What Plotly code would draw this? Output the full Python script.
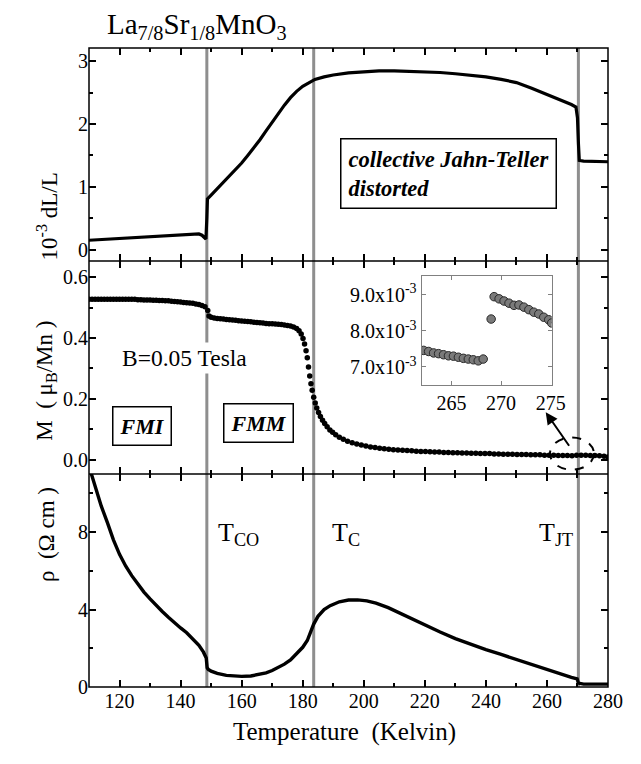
import plotly.graph_objects as go
from plotly.subplots import make_subplots

FONT = "Liberation Serif"

# ---------------- data ----------------
# Top panel: thermal expansion 10^-3 dL/L
dl_T = [110, 115, 120, 125, 130, 135, 140, 143, 145, 146, 147, 147.7, 148.3, 148.6, 148.8,
        150, 152, 154, 156, 158, 160, 162, 164, 166, 168, 170, 172, 174, 176, 178, 180, 182,
        184, 187, 190, 195, 200, 205, 210, 215, 220, 225, 230, 235, 240, 245, 250, 255, 260,
        265, 268, 269.5, 270.0, 270.3, 270.6, 272, 276, 280]
dl_V = [0.15, 0.165, 0.18, 0.195, 0.21, 0.225, 0.24, 0.25, 0.255, 0.25, 0.23, 0.19, 0.17, 0.5, 0.81,
        0.87, 0.97, 1.07, 1.18, 1.28, 1.38, 1.50, 1.62, 1.75, 1.89, 2.03, 2.17, 2.30, 2.42, 2.52, 2.60, 2.66,
        2.71, 2.75, 2.78, 2.815, 2.835, 2.845, 2.845, 2.84, 2.835, 2.82, 2.80, 2.78, 2.75, 2.71, 2.66, 2.57, 2.47,
        2.38, 2.31, 2.27, 2.1, 1.7, 1.42, 1.41, 1.41, 1.40]

# Middle panel: magnetization (mu_B/Mn), B = 0.05 T
m_T = [110, 111, 112, 113, 114, 115, 116, 117, 118, 119, 120, 121, 122, 123, 124, 125,
       126, 127, 128, 129, 130, 131, 132, 133, 134, 135, 136, 137, 138, 139, 140,
       141, 142, 143, 144, 145, 146, 147, 148, 148.9,
       149.3, 150, 151, 152, 153, 154, 155, 156, 157, 158, 159, 160, 161, 162, 163, 164, 165,
       166, 167, 168, 169, 170, 171, 172, 173, 174, 175, 176, 177, 178, 178.8, 179.5, 180.1,
       180.6, 181.1, 181.5, 181.9, 182.3, 182.7, 183.1, 183.6, 184.1, 184.6, 185.2, 185.8,
       186.5, 187.2, 188, 188.9, 189.8, 190.8, 192, 193.3, 194.7, 196.2, 197.7, 199.2, 200.7,
       202.2, 203.7, 205.2, 206.7, 208.2, 209.7, 211.2, 212.7, 214.2, 215.7, 217.2, 218.7,
       220.2, 221.7, 223.2, 224.7, 226.2, 227.7, 229.2, 230.7, 232.2, 233.7, 235.2, 236.7,
       238.2, 239.7, 241.2, 242.7, 244.2, 245.7, 247.2, 248.7, 250.2, 251.7, 253.2, 254.7,
       256.2, 257.7, 259.2, 260.7, 262.2, 263.7, 265.2, 266.7, 268.2, 269.7, 271.2, 272.7,
       274.2, 275.7, 277.2, 278.7, 280]
m_V = [0.527, 0.527, 0.527, 0.527, 0.527, 0.527, 0.527, 0.527, 0.527, 0.527, 0.527, 0.527, 0.527, 0.527, 0.527, 0.527,
       0.526, 0.526, 0.525, 0.525, 0.525, 0.524, 0.524, 0.523, 0.523, 0.522, 0.522, 0.521, 0.520, 0.519, 0.518,
       0.517, 0.516, 0.515, 0.514, 0.512, 0.510, 0.507, 0.503, 0.490,
       0.472, 0.468, 0.466, 0.464, 0.463, 0.462, 0.461, 0.460, 0.459, 0.458, 0.457, 0.456, 0.455, 0.454, 0.453, 0.452, 0.451,
       0.450, 0.449, 0.448, 0.447, 0.447, 0.446, 0.445, 0.444, 0.443, 0.441, 0.439, 0.436, 0.431, 0.424, 0.413, 0.398,
       0.380, 0.358, 0.335, 0.305, 0.275, 0.250, 0.228, 0.205, 0.186, 0.170, 0.155, 0.142,
       0.130, 0.119, 0.108, 0.098, 0.090, 0.082, 0.074, 0.067, 0.061, 0.056, 0.052, 0.048, 0.045,
       0.042, 0.040, 0.038, 0.036, 0.034, 0.033, 0.032, 0.031, 0.030, 0.029, 0.028, 0.027,
       0.027, 0.026, 0.025, 0.025, 0.024, 0.024, 0.023, 0.023, 0.022, 0.022, 0.021, 0.021,
       0.020, 0.020, 0.020, 0.019, 0.019, 0.018, 0.018, 0.018, 0.017, 0.017, 0.017, 0.016,
       0.016, 0.016, 0.015, 0.015, 0.015, 0.014, 0.014, 0.014, 0.013, 0.015, 0.015, 0.015,
       0.014, 0.014, 0.013, 0.011, 0.009]

# Bottom panel: resistivity (Ohm cm)
rho_T = [110, 112, 114, 116, 118, 120, 122, 124, 126, 128, 130, 132, 134, 136, 138, 140, 142, 144,
         146, 147.5, 148.4, 148.7, 149, 150, 152, 155, 158, 160, 163, 166, 168, 170, 172, 174, 176,
         178, 180, 181.5, 182.5, 183.6, 185, 187, 189, 192, 195, 198, 201, 204, 208, 212, 216, 220,
         225, 230, 235, 240, 245, 250, 255, 260, 265, 268, 269.9, 270.3, 272, 276, 280]
rho_V = [11.4, 10.3, 9.35, 8.5, 7.6, 6.85, 6.25, 5.75, 5.3, 4.9, 4.55, 4.2, 3.9, 3.6, 3.3, 3.05, 2.8, 2.5,
         2.15, 1.8, 1.5, 1.0, 0.92, 0.82, 0.7, 0.6, 0.56, 0.55, 0.57, 0.65, 0.73, 0.85, 1.0, 1.18, 1.4,
         1.7, 2.05, 2.4, 2.8, 3.25, 3.65, 4.0, 4.2, 4.4, 4.49, 4.5, 4.45, 4.33, 4.1, 3.8, 3.5, 3.2,
         2.84, 2.5, 2.2, 1.93, 1.68, 1.42, 1.14, 0.88, 0.62, 0.5, 0.42, 0.2, 0.15, 0.15, 0.15]

# Inset: magnetization near T_JT
in_T = [262.2, 262.7, 263.2, 263.7, 264.2, 264.7, 265.2, 265.7, 266.2, 266.7, 267.2, 267.7, 268.2,
        269.0,
        269.3, 269.8, 270.3, 270.8, 271.3, 271.8, 272.3, 272.8, 273.3, 273.8, 274.3, 274.8, 275.1]
in_V = [7.46e-3, 7.43e-3, 7.39e-3, 7.37e-3, 7.34e-3, 7.31e-3, 7.30e-3, 7.27e-3, 7.24e-3, 7.22e-3, 7.20e-3, 7.17e-3, 7.22e-3,
        8.33e-3,
        8.95e-3, 8.89e-3, 8.83e-3, 8.77e-3, 8.71e-3, 8.72e-3, 8.66e-3, 8.59e-3, 8.52e-3, 8.47e-3, 8.38e-3, 8.31e-3, 8.22e-3]

# Transition temperatures (gray lines)
T_lines = [148.6, 183.6, 270.3]

x_ticks = [120, 140, 160, 180, 200, 220, 240, 260, 280]
inset_yvals = [7.0e-3, 8.0e-3, 9.0e-3]
inset_ytext = ["7.0x10<sup>-3</sup>", "8.0x10<sup>-3</sup>", "9.0x10<sup>-3</sup>"]

# ---------------- figure ----------------
fig = make_subplots(rows=3, cols=1, shared_xaxes=True, vertical_spacing=0)

fig.add_trace(go.Scatter(x=dl_T, y=dl_V, mode="lines",
                         line=dict(color="black", width=3.2), showlegend=False), row=1, col=1)
fig.add_trace(go.Scatter(x=m_T, y=m_V, mode="markers",
                         marker=dict(color="black", size=5.5), showlegend=False), row=2, col=1)
fig.add_trace(go.Scatter(x=rho_T, y=rho_V, mode="lines",
                         line=dict(color="black", width=3.4), showlegend=False), row=3, col=1)
fig.add_trace(go.Scatter(x=in_T, y=in_V, mode="markers", xaxis="x4", yaxis="y4",
                         marker=dict(color="#7a7a7a", size=8.5, line=dict(color="#2a2a2a", width=1)),
                         showlegend=False, cliponaxis=True))

tickfont = dict(family=FONT, size=20, color="black")
common = dict(showline=False, mirror="allticks",
              ticks="inside", ticklen=7, tickwidth=1.5, tickcolor="black",
              showgrid=False, zeroline=False, tickfont=tickfont)

for i in (1, 2, 3):
    fig.update_xaxes(range=[110, 280], tickvals=x_ticks,
                     minor=dict(ticks="inside", ticklen=4, tickwidth=1.5, tickcolor="black", dtick=10, tick0=110),
                     row=i, col=1, **common)

fig.update_yaxes(range=[-0.18, 3.21], dtick=1, tick0=0,
                 minor=dict(ticks="inside", ticklen=4, tickwidth=1.5, tickcolor="black", dtick=0.5, tick0=0),
                 row=1, col=1, **common)
fig.update_yaxes(range=[-0.047, 0.653], dtick=0.2, tick0=0, tickformat=".1f",
                 minor=dict(ticks="inside", ticklen=4, tickwidth=1.5, tickcolor="black", dtick=0.1, tick0=0),
                 row=2, col=1, **common)
fig.update_yaxes(range=[0, 11], dtick=4, tick0=0,
                 minor=dict(ticks="inside", ticklen=4, tickwidth=1.5, tickcolor="black", dtick=2, tick0=0),
                 row=3, col=1, **common)

fig.update_layout(
    xaxis4=dict(domain=[0.641, 0.8915], anchor="y4", range=[262, 275.1],
                tickvals=[265, 270, 275], showline=True, linecolor="#808080", linewidth=1.2,
                mirror="allticks", ticks="inside", ticklen=4, tickcolor="#808080",
                showgrid=False, zeroline=False, tickfont=dict(family=FONT, size=20, color="black")),
    yaxis4=dict(domain=[0.4726, 0.643], anchor="x4", range=[6.5e-3, 9.52e-3],
                tickvals=inset_yvals, ticktext=inset_ytext, showline=True, linecolor="#808080",
                linewidth=1.2, mirror="allticks", ticks="inside", ticklen=4, tickcolor="#808080",
                showgrid=False, zeroline=False, tickfont=dict(family=FONT, size=20, color="black")),
)

shapes = []
for t in T_lines:
    shapes.append(dict(type="line", xref="x", yref="paper", x0=t, x1=t, y0=0, y1=1,
                       line=dict(color="#8e8e8e", width=3), layer="below"))
# frame and panel separators
shapes.append(dict(type="rect", xref="paper", yref="paper", x0=0, x1=1, y0=0, y1=1,
                   line=dict(color="black", width=1.5)))
for yy in (1 / 3, 2 / 3):
    shapes.append(dict(type="line", xref="paper", yref="paper", x0=0, x1=1, y0=yy, y1=yy,
                       line=dict(color="black", width=1.5)))
# dashed ellipse around the T_JT region in M(T)
shapes.append(dict(type="circle", xref="x2", yref="y2", x0=261.0, x1=275.4, y0=-0.033, y1=0.073,
                   line=dict(color="black", width=2, dash="dash")))

ann = []
ann.append(dict(xref="paper", yref="paper", x=0.03, y=1.035, xanchor="left", yanchor="middle",
                text="La<sub>7/8</sub>Sr<sub>1/8</sub>MnO<sub>3</sub>", showarrow=False,
                font=dict(family=FONT, size=29, color="black")))
ann.append(dict(xref="paper", yref="paper", x=-0.112, y=0.809, textangle=-90,
                text="10<sup>-3</sup> dL/L", showarrow=False,
                font=dict(family=FONT, size=23, color="black")))
ann.append(dict(xref="paper", yref="paper", x=-0.114, y=0.479, textangle=-90,
                text="M  ( μ<sub>B</sub>/Mn )", showarrow=False,
                font=dict(family=FONT, size=23, color="black")))
ann.append(dict(xref="paper", yref="paper", x=-0.110, y=0.161, textangle=-90,
                text="ρ  (Ω cm )", showarrow=False,
                font=dict(family=FONT, size=23, color="black")))
ann.append(dict(xref="paper", yref="paper", x=0.493, y=-0.0704, yanchor="middle",
                text="Temperature  (Kelvin)", showarrow=False,
                font=dict(family=FONT, size=25, color="black")))
ann.append(dict(xref="x", yref="y", x=227.7, y=1.22,
                text="<b><i>collective Jahn-Teller<br>distorted</i></b>", align="left",
                showarrow=False, bordercolor="black", borderwidth=1.5, borderpad=7,
                font=dict(family=FONT, size=22.5, color="black")))
ann.append(dict(xref="x2", yref="y2", x=127.2, y=0.112, text="<b><i>FMI</i></b>",
                showarrow=False, bordercolor="black", borderwidth=1.5, borderpad=6,
                font=dict(family=FONT, size=22, color="black")))
ann.append(dict(xref="x2", yref="y2", x=165.6, y=0.119, text="<b><i>FMM</i></b>",
                showarrow=False, bordercolor="black", borderwidth=1.5, borderpad=6,
                font=dict(family=FONT, size=22, color="black")))
ann.append(dict(xref="x2", yref="y2", x=141.3, y=0.333, text="B=0.05 Tesla",
                showarrow=False, bgcolor="white", borderpad=2,
                font=dict(family=FONT, size=23.5, color="black")))
ann.append(dict(xref="x2", yref="y2", x=259.6, y=0.156, ax=267.6, ay=0.041,
                axref="x2", ayref="y2", text="", showarrow=True, arrowhead=2,
                arrowsize=1.2, arrowwidth=2, arrowcolor="black"))
for xx, lab in [(151.6, "T<sub>CO</sub>"), (188.8, "T<sub>C</sub>"), (256.8, "T<sub>JT</sub>")]:
    ann.append(dict(xref="x3", yref="y3", x=xx, y=7.9, xanchor="left", yanchor="middle",
                    text=lab, showarrow=False, font=dict(family=FONT, size=26, color="black")))

fig.update_layout(
    width=641, height=764,
    margin=dict(l=89, r=33, t=48, b=77),
    paper_bgcolor="white", plot_bgcolor="rgba(0,0,0,0)",
    shapes=shapes, annotations=ann, showlegend=False,
    font=dict(family=FONT, color="black"),
)

fig.write_html("out.html")
